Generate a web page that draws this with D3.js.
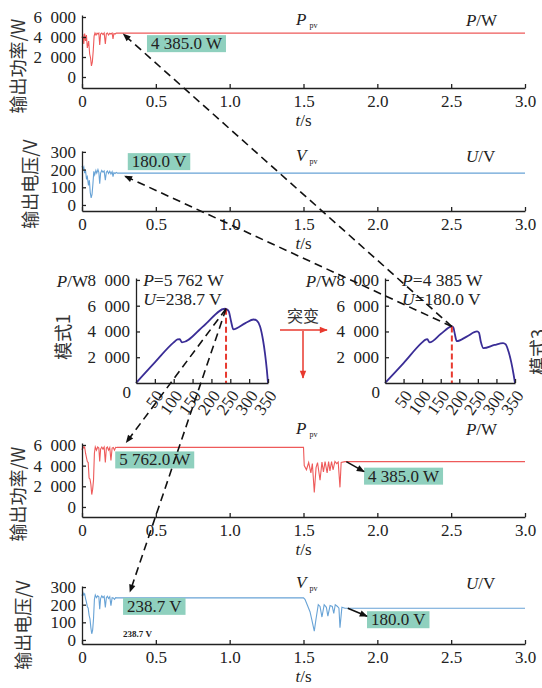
<!DOCTYPE html>
<html>
<head>
<meta charset="utf-8">
<script src="https://cdn.jsdelivr.net/npm/d3@7"></script>
<style>
  body { margin: 0; background: #fff; }
  svg { display: block; font-family: "Liberation Serif", "Times New Roman", serif; }
  .cn { font-family: "Noto Sans CJK SC", sans-serif; fill: #333; }
  .axis path, .axis line { stroke: #222; stroke-width: 1.3; }
  .axis text { font-size: 17px; fill: #222; font-family: "Liberation Serif", serif; }
</style>
</head>
<body>
<div id="chart"></div>
<script>
// ticks
const tTicks = [0, 0.5, 1.0, 1.5, 2.0, 2.5, 3.0];
const powerTicks = [0, 2000, 4000, 6000];
const voltTicks = [0, 100, 200, 300];
const pvUTicks = [50, 100, 150, 200, 250, 300, 350];
const pvPTicks = [0, 2000, 4000, 6000, 8000];

// top two plots: mode 3 only, [t (s), value]
const pTop = [[0,3900],[0.006,4300],[0.012,3300],[0.018,4350],[0.024,3600],[0.03,4200],[0.036,2900],[0.045,3600],
  [0.052,2300],[0.058,1900],[0.064,1100],[0.07,1500],[0.076,2600],[0.082,4100],[0.088,4400],[0.095,4200],
  [0.102,4380],[0.108,4300],[0.114,4400],[0.12,3200],[0.126,4300],[0.134,4400],[0.142,4250],[0.15,4400],
  [0.158,3300],[0.165,4350],[0.172,4400],[0.18,4200],[0.188,4380],[0.196,4300],[0.204,4400],[0.21,3800],
  [0.216,4350],[0.224,4300],[0.232,4400],[0.24,4385],[3.0,4385]];
const vTop = [[0,220],[0.006,205],[0.012,215],[0.018,180],[0.024,195],[0.03,150],[0.036,160],[0.044,110],
  [0.05,140],[0.056,70],[0.062,40],[0.068,60],[0.074,120],[0.08,190],[0.086,170],[0.094,195],[0.1,180],
  [0.108,200],[0.114,185],[0.12,120],[0.126,180],[0.134,195],[0.142,185],[0.15,192],[0.158,140],[0.165,185],
  [0.172,192],[0.18,178],[0.188,190],[0.196,175],[0.204,188],[0.21,160],[0.216,183],[0.224,178],[0.232,184],
  [0.24,180],[3.0,180]];

// bottom two plots: mode 1 then switch to mode 3 at 1.5 s
const pBot = [[0,5500],[0.006,5900],[0.012,5700],[0.018,5800],[0.024,5200],[0.03,4800],[0.036,4400],[0.042,4300],
  [0.048,2800],[0.054,2700],[0.06,2200],[0.066,1200],[0.072,1700],[0.078,2600],[0.084,5200],[0.09,5800],
  [0.098,5500],[0.106,5800],[0.114,5700],[0.12,4400],[0.126,5600],[0.134,5800],[0.142,5600],[0.15,5800],
  [0.158,4300],[0.165,5700],[0.172,5800],[0.18,5500],[0.188,5750],[0.196,4500],[0.204,5700],[0.212,5762],
  [0.22,5500],[0.228,5780],[0.236,5762],[1.5,5762],
  [1.505,4000],[1.52,3600],[1.535,4300],[1.55,3300],[1.56,4200],[1.573,1400],[1.585,3800],[1.595,4300],
  [1.612,2600],[1.625,4350],[1.635,3400],[1.646,4400],[1.66,3300],[1.67,4400],[1.679,3500],[1.69,4400],
  [1.7,3600],[1.713,4400],[1.725,4200],[1.735,4350],[1.747,1900],[1.755,4300],[1.781,4385],[3.0,4385]];
const vBot = [[0,250],[0.006,270],[0.012,255],[0.018,262],[0.024,235],[0.03,215],[0.036,190],[0.042,180],
  [0.048,140],[0.054,120],[0.06,70],[0.066,35],[0.072,55],[0.078,120],[0.084,230],[0.09,255],[0.098,240],
  [0.106,250],[0.114,245],[0.12,175],[0.126,235],[0.134,250],[0.142,240],[0.15,248],[0.158,185],[0.165,240],
  [0.172,248],[0.18,235],[0.188,245],[0.196,195],[0.204,240],[0.212,238],[0.22,230],[0.228,240],[0.236,238.7],
  [1.5,238.7],
  [1.51,230],[1.525,200],[1.544,160],[1.555,120],[1.573,50],[1.585,120],[1.6,200],[1.612,190],[1.625,130],
  [1.64,200],[1.655,185],[1.665,135],[1.68,195],[1.695,190],[1.705,150],[1.715,200],[1.73,190],[1.74,180],
  [1.747,70],[1.76,185],[1.781,180],[3.0,180]];

// P-U curves, [U (V), P (W)]
const mode1 = [[0,0],[50,1600],[100,3150],[110,3380],[116,3400],[122,3150],[180,4450],[236,5762],[240,5740],
  [246,5550],[252,4800],[258,4170],[290,4650],[312,4930],[320,4850],[329,4390],[337,3300],[342,2300],
  [347,1000],[350,0]];
const mode3 = [[0,0],[50,1550],[100,3150],[108,3350],[114,3400],[120,3150],[150,3800],[180,4385],[184,4300],
  [188,3800],[193,3250],[220,3600],[248,4000],[253,3900],[258,3200],[265,2700],[295,2950],[318,3100],
  [325,3000],[333,2400],[340,1600],[346,700],[350,0]];
const mode1Peak = [238.7, 5762];
const mode3Peak = [180.0, 4385];

const W = 542, H = 688;
const svg = d3.select("#chart").append("svg").attr("width", W).attr("height", H);

const defs = svg.append("defs");
function marker(id, color) {
  defs.append("marker").attr("id", id).attr("viewBox", "0 0 10 10")
    .attr("refX", 9).attr("refY", 5).attr("markerWidth", 9).attr("markerHeight", 8)
    .attr("markerUnits", "userSpaceOnUse").attr("orient", "auto")
    .append("path").attr("d", "M0,1L10,5L0,9z").attr("fill", color);
}
marker("ab", "#111");
marker("ar", "#e8392e");

// "6 000" style thousands
const kfmt = d => d3.format(",")(d).replace(/,/g, "\u00a0\u00a0");
const kfmt1 = d => d3.format(",")(d).replace(/,/g, "\u00a0");
const tfmt = d => d === 0 ? "0" : d.toFixed(1);

const x = d3.scaleLinear().domain([0, 3]).range([82, 525]);

function timePlot(o) {
  const y = d3.scaleLinear().domain(o.yDomain).range(o.yRange);
  const g = svg.append("g");
  g.append("path").datum(o.data)
    .attr("fill", "none").attr("stroke", o.color).attr("stroke-width", 1.1)
    .attr("d", d3.line().x(d => x(d[0])).y(d => y(d[1])));
  g.append("g").attr("class", "axis")
    .attr("transform", `translate(0,${o.yRange[0]})`)
    .call(d3.axisBottom(x).tickValues(tTicks).tickFormat(tfmt)
      .tickSizeInner(-4).tickSizeOuter(0).tickPadding(7));
  g.append("g").attr("class", "axis")
    .attr("transform", `translate(${x(0)},0)`)
    .call(d3.axisLeft(y).tickValues(o.ticks).tickFormat(kfmt)
      .tickSizeInner(-4).tickSizeOuter(0).tickPadding(6));

  // x label
  const xl = g.append("text").attr("x", x(1.5)).attr("y", o.yRange[0] + 38)
    .attr("text-anchor", "middle").attr("font-size", 17).attr("fill", "#222");
  xl.append("tspan").attr("font-style", "italic").text("t");
  xl.append("tspan").text("/s");

  // y title
  g.append("text").attr("class", "cn")
    .attr("transform", `translate(${o.titleX},${o.titleY}) rotate(-90)`)
    .attr("text-anchor", "middle").attr("dominant-baseline", "central")
    .attr("font-size", 18).text(o.title);

  // series name + unit
  const sn = g.append("text").attr("x", x(1.45)).attr("y", o.nameY)
    .attr("font-size", 17).attr("fill", "#222");
  sn.append("tspan").attr("font-style", "italic").text(o.name);
  sn.append("tspan").attr("font-size", 8).attr("dy", 3).attr("dx", 3).text("pv");
  const un = g.append("text").attr("x", x(2.6)).attr("y", o.nameY + 1)
    .attr("font-size", 17).attr("fill", "#222");
  un.append("tspan").attr("font-style", "italic").text(o.unit[0]);
  un.append("tspan").text(o.unit[1]);
  return y;
}

function tag(px, py, txt) {
  const t = svg.append("text").attr("x", px + 4).attr("y", py + 14)
    .attr("font-size", 17).attr("fill", "#222").text(txt);
  const w = t.node().getComputedTextLength();
  svg.insert("rect", () => t.node())
    .attr("x", px).attr("y", py).attr("width", w + 8).attr("height", 17)
    .attr("fill", "#8fd0be");
}

const y1 = timePlot({ data: pTop, color: "#ee5a5a", yDomain: [-1100, 6200], yRange: [88, 15],
  ticks: powerTicks, title: "输出功率/W", titleX: 17, titleY: 66, name: "P", unit: ["P", "/W"], nameY: 25 });
const y2 = timePlot({ data: vTop, color: "#68a3d6", yDomain: [-34, 305], yRange: [211, 151],
  ticks: voltTicks, title: "输出电压/V", titleX: 29, titleY: 184, name: "V", unit: ["U", "/V"], nameY: 161 });
const y4 = timePlot({ data: pBot, color: "#ee5a5a", yDomain: [-970, 6190], yRange: [517, 443],
  ticks: powerTicks, title: "输出功率/W", titleX: 17, titleY: 494, name: "P", unit: ["P", "/W"], nameY: 434 });
const y5 = timePlot({ data: vBot, color: "#68a3d6", yDomain: [-23, 306], yRange: [644, 586],
  ticks: voltTicks, title: "输出电压/V", titleX: 22, titleY: 625, name: "V", unit: ["U", "/V"], nameY: 588 });

// P-U plots
function pvPlot(o) {
  const u = d3.scaleLinear().domain([0, 350]).range(o.range);
  const p = d3.scaleLinear().domain([0, 8150]).range([383, 278]);
  const g = svg.append("g");
  g.append("path").datum(o.data)
    .attr("fill", "none").attr("stroke", "#3a2d96").attr("stroke-width", 1.8)
    .attr("d", d3.line().curve(d3.curveMonotoneX).x(d => u(d[0])).y(d => p(d[1])));
  g.append("line")
    .attr("x1", u(o.peak[0])).attr("x2", u(o.peak[0]))
    .attr("y1", p(o.peak[1])).attr("y2", p(0))
    .attr("stroke", "#e8392e").attr("stroke-width", 2).attr("stroke-dasharray", "6,3");
  const xa = g.append("g").attr("class", "axis").attr("transform", `translate(0,${p(0)})`)
    .call(d3.axisBottom(u).tickValues(pvUTicks).tickSizeInner(-4).tickSizeOuter(0));
  xa.selectAll(".tick text")
    .attr("font-size", 15).attr("text-anchor", "end").attr("y", 0).attr("dy", "0.35em")
    .attr("transform", "translate(4,9) rotate(-55)");
  g.append("g").attr("class", "axis").attr("transform", `translate(${u(0)},0)`)
    .call(d3.axisLeft(p).tickValues(pvPTicks.filter(d => d > 0)).tickFormat(kfmt)
      .tickSizeInner(-4).tickSizeOuter(0).tickPadding(6));
  // the zero label sits below the corner
  g.append("text").attr("x", u(0) - 5).attr("y", p(0) + 15)
    .attr("text-anchor", "end").attr("font-size", 17).attr("fill", "#222").text("0");

  const pw = g.append("text").attr("x", u(0) - 48).attr("y", p(8000) + 7)
    .attr("text-anchor", "end").attr("font-size", 17).attr("fill", "#222");
  pw.append("tspan").attr("font-style", "italic").text("P");
  pw.append("tspan").text("/W");

  const t1 = g.append("text").attr("x", u(o.textU)).attr("y", p(8000) + 6)
    .attr("font-size", 17.5).attr("fill", "#222");
  t1.append("tspan").attr("font-style", "italic").text("P");
  t1.append("tspan").text("=" + kfmt1(o.peak[1]) + " W");
  const t2 = g.append("text").attr("x", u(o.textU)).attr("y", p(8000) + 25)
    .attr("font-size", 17.5).attr("fill", "#222");
  t2.append("tspan").attr("font-style", "italic").text("U");
  t2.append("tspan").text("=" + o.peak[0].toFixed(1) + " V");

  g.append("text").attr("class", "cn")
    .attr("transform", `translate(${o.modeX},${o.modeY}) rotate(-90)`)
    .attr("text-anchor", "middle").attr("dominant-baseline", "central")
    .attr("font-size", 18).text(o.mode);
  return [u(o.peak[0]), p(o.peak[1])];
}

const pk1 = pvPlot({ data: mode1, peak: mode1Peak, range: [136, 268], textU: 19, mode: "模式1", modeX: 62, modeY: 337 });
const pk3 = pvPlot({ data: mode3, peak: mode3Peak, range: [385, 515], textU: 46, mode: "模式3", modeX: 537, modeY: 352 });

// 突变 arrows
svg.append("text").attr("class", "cn").attr("x", 303).attr("y", 322)
  .attr("text-anchor", "middle").attr("font-size", 16).text("突变");
svg.append("line").attr("x1", 280).attr("y1", 330).attr("x2", 327).attr("y2", 330)
  .attr("stroke", "#e8392e").attr("stroke-width", 1.5).attr("marker-end", "url(#ar)");
svg.append("line").attr("x1", 303).attr("y1", 331).attr("x2", 303).attr("y2", 378)
  .attr("stroke", "#e8392e").attr("stroke-width", 1.5).attr("marker-end", "url(#ar)");

// value tags
tag(x(0.44), y1(4385) + 2, "4 385.0 W");
tag(x(0.31), y2(180) - 20, "180.0 V");
tag(x(0.225), y4(5762) + 4, "5 762.0 W");
tag(x(1.91), y4(4385) + 6, "4 385.0 W");
tag(x(0.278), y5(238.7), "238.7 V");
tag(x(1.93), y5(180) + 3, "180.0 V");
svg.append("text").attr("x", x(0.278)).attr("y", y5(0) - 3)
  .attr("font-size", 9).attr("font-weight", "bold").attr("fill", "#222").text("238.7 V");

// short solid arrows to tags
function arrow(x1, y1_, x2, y2_, dash) {
  svg.append("line").attr("x1", x1).attr("y1", y1_).attr("x2", x2).attr("y2", y2_)
    .attr("stroke", "#111").attr("stroke-width", 1.6)
    .attr("stroke-dasharray", dash ? "8,5" : null)
    .attr("marker-end", "url(#ab)");
}
arrow(x(1.79), y4(4385), x(1.91), y4(4385) + 10);
arrow(x(1.80), y5(180), x(1.93), y5(180) + 8);

// dashed links from P-U peaks to the time plots
arrow(pk3[0], pk3[1], x(0.28), y1(4385) + 1, true);
arrow(pk3[0], pk3[1], x(0.29), y2(180) + 3, true);
arrow(pk1[0], pk1[1], x(0.30), y4(5762) - 5, true);
arrow(pk1[0], pk1[1], x(0.325), y5(238.7) - 6, true);
</script>
</body>
</html>
